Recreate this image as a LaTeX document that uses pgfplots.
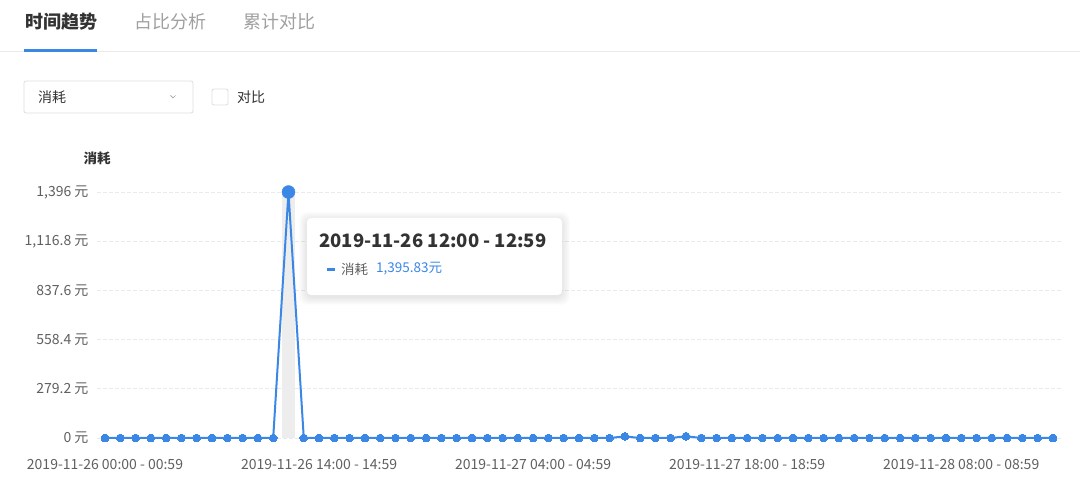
\documentclass[border=0pt]{standalone}
\usepackage{fontspec}
\setmainfont{Noto Sans CJK SC}
\usepackage{pgfplots}
\pgfplotsset{compat=1.18}
\definecolor{lineblue}{RGB}{58,135,230}
\definecolor{txtdark}{RGB}{51,51,51}
\definecolor{txtgray}{RGB}{96,96,96}
\definecolor{tabgray}{RGB}{160,160,160}
\definecolor{bordergray}{RGB}{221,221,221}
\definecolor{gridgray}{RGB}{234,234,234}
\begin{document}
\begin{tikzpicture}
\useasboundingbox[fill=white] (0,0) rectangle (1080pt,498pt);
\begin{axis}[
  at={(97pt,60pt)}, anchor=south west,
  scale only axis, width=965pt, height=246pt,
  xmin=-0.523, xmax=62.59, ymin=0, ymax=1396,
  clip=false,
  axis line style={draw=none},
  major tick length=0pt,
  xtick={0,14,28,42,56},
  xticklabels={2019-11-26 00:00 - 00:59, 2019-11-26 14:00 - 14:59, 2019-11-27 04:00 - 04:59, 2019-11-27 18:00 - 18:59, 2019-11-28 08:00 - 08:59},
  xticklabel style={font=\fontsize{14}{16}\selectfont, text=txtgray, anchor=center, yshift=-27pt},
  ytick={0,279.2,558.4,837.6,1116.8,1396},
  yticklabels={0 元, 279.2 元, 558.4 元, 837.6 元, {1,116.8 元}, {1,396 元}},
  yticklabel style={font=\fontsize{14}{16}\selectfont, text=txtgray, anchor=east, xshift=-5pt},
  ymajorgrids,
  grid style={gridgray, dash pattern=on 4pt off 2pt, line width=0.8pt},
]
\fill[gray!14] (axis cs:11.55,0) rectangle (axis cs:12.45,1396);
\addplot[lineblue, line width=2pt, mark=*, mark size=3.9pt, mark options={fill=lineblue, draw=lineblue, line width=0pt}] coordinates {
(0,0) (1,0) (2,0) (3,0) (4,0) (5,0) (6,0) (7,0) (8,0) (9,0)
(10,0) (11,0) (12,1395.83) (13,0) (14,0) (15,0) (16,0) (17,0) (18,0) (19,0)
(20,0) (21,0) (22,0) (23,0) (24,0) (25,0) (26,0) (27,0) (28,0) (29,0)
(30,0) (31,0) (32,0) (33,0) (34,9) (35,0) (36,0) (37,0) (38,10) (39,0)
(40,0) (41,0) (42,0) (43,0) (44,0) (45,0) (46,0) (47,0) (48,0) (49,0)
(50,0) (51,0) (52,0) (53,0) (54,0) (55,0) (56,0) (57,0) (58,0) (59,0)
(60,0) (61,0) (62,0)
};
\addplot[only marks, mark=*, mark size=6.5pt, mark options={fill=lineblue, draw=lineblue}] coordinates {(12,1395.83)};
\end{axis}
\begin{scope}[x=1pt, y=-1pt, yshift=498pt]
  % tabs
  \node[anchor=west, inner sep=0pt, text=txtdark] at (25,22) {\fontsize{18}{20}\selectfont\bfseries 时间趋势};
  \node[anchor=west, inner sep=0pt, text=tabgray] at (134,22) {\fontsize{18}{20}\selectfont 占比分析};
  \node[anchor=west, inner sep=0pt, text=tabgray] at (243,22) {\fontsize{18}{20}\selectfont 累计对比};
  \draw[gridgray, line width=1pt] (0,52) -- (1080,52);
  \fill[lineblue] (24,49) rectangle (97,52);
  % dropdown
  \draw[bordergray, line width=0.8pt, rounded corners=2pt] (24,81) rectangle (193,113);
  \node[anchor=west, inner sep=0pt, text=txtdark] at (38,97) {\fontsize{14}{16}\selectfont 消耗};
  \draw[tabgray, line width=0.7pt] (170.5,95.5) -- (173,98) -- (175.5,95.5);
  % checkbox
  \draw[bordergray, line width=0.8pt, rounded corners=2pt] (212,89) rectangle (228,105);
  \node[anchor=west, inner sep=0pt, text=txtdark] at (237,97) {\fontsize{14}{16}\selectfont 对比};
  % y title
  \node[inner sep=0pt, text=txtdark] at (97,158) {\fontsize{13.5}{15}\selectfont\bfseries 消耗};
  % tooltip
  \foreach \s in {8,7,6,5,4,3,2,1}{
    \fill[black, opacity=0.012, rounded corners=8pt] (307-\s,218-\s+2) rectangle (562+\s,295+\s+2);
  }
  \fill[white, rounded corners=4pt] (307,218) rectangle (562,295);
  \node[anchor=west, inner sep=0pt, text=txtdark] at (319,241) {\fontsize{18.5}{20}\selectfont\bfseries 2019-11-26 12:00 - 12:59};
  \fill[lineblue] (327,267.8) rectangle (334.5,270.6);
  \node[anchor=west, inner sep=0pt, text=txtgray] at (341,269) {\fontsize{13.5}{15}\selectfont 消耗};
  \node[anchor=west, inner sep=0pt, text=lineblue] at (376,269) {\fontsize{13.5}{15}\selectfont 1,395.83元};
\end{scope}
\end{tikzpicture}
\end{document}
